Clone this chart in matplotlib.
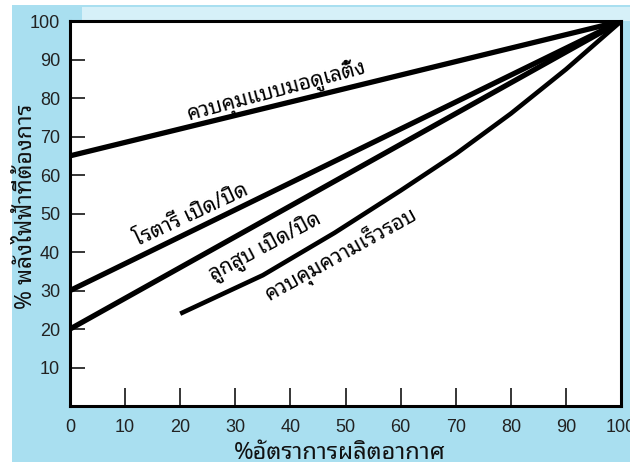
import matplotlib
matplotlib.use("Agg")
import matplotlib.pyplot as plt
from matplotlib.patches import Rectangle

thai = ['Noto Sans Thai Looped', 'DejaVu Sans']
nums = ['Liberation Sans Narrow', 'Liberation Sans', 'DejaVu Sans']

# curves: % air output -> % power needed
mod_x = [0, 100]
mod_y = [65, 100]
rot_x = [0, 100]
rot_y = [30, 100]
rec_x = [0, 100]
rec_y = [20, 100]
vsd_x = [20, 35, 48, 60, 70, 80, 90, 100]
vsd_y = [24, 34, 45, 56, 65.5, 76, 87.5, 100]

labels = ['ควบคุมแบบมอดูเลติ้ง', 'โรตารี เปิด/ปิด', 'ลูกสูบ เปิด/ปิด', 'ควบคุมความเร็วรอบ']
xticks = list(range(0, 101, 10))
yticks = list(range(10, 101, 10))

fig = plt.figure(figsize=(6.3, 4.7), dpi=100)
fig.patch.set_facecolor('white')
fig.patches.append(Rectangle((0.019, 0.017), 0.981, 0.972, transform=fig.transFigure,
                             facecolor='#a9dff0', edgecolor='none', zorder=-10))
fig.patches.append(Rectangle((0.13, 0.955), 0.87, 0.03, transform=fig.transFigure,
                             facecolor='#d6f0f8', edgecolor='none', zorder=-9))

ax = fig.add_axes([0.111, 0.136, 0.875, 0.819])
ax.set_facecolor('white')
ax.set_xlim(0, 100)
ax.set_ylim(0, 100)

ax.plot(mod_x, mod_y, color='black', lw=3.8, solid_capstyle='butt')
ax.plot(rot_x, rot_y, color='black', lw=3.8, solid_capstyle='butt')
ax.plot(rec_x, rec_y, color='black', lw=3.8, solid_capstyle='butt')
ax.plot(vsd_x, vsd_y, color='black', lw=3.3, solid_capstyle='butt', solid_joinstyle='round')

ax.text(37.6, 81.8, labels[0], rotation=15, rotation_mode='anchor', ha='center', va='center',
        fontsize=15, family=thai)
ax.text(22.0, 49.6, labels[1], rotation=25, rotation_mode='anchor', ha='center', va='center',
        fontsize=15, family=thai)
ax.text(35.4, 41.3, labels[2], rotation=28, rotation_mode='anchor', ha='center', va='center',
        fontsize=15, family=thai)
ax.text(49.2, 39.5, labels[3], rotation=29, rotation_mode='anchor', ha='center', va='center',
        fontsize=15, family=thai)

for s in ax.spines.values():
    s.set_linewidth(2.2)

ax.set_xticks(xticks)
ax.set_xticklabels([str(v) for v in xticks], family=nums, fontsize=13, color='#222222')
ax.set_yticks(yticks)
ax.set_yticklabels([str(v) for v in yticks], family=nums, fontsize=13, color='#222222')
ax.tick_params(axis='x', direction='in', length=13, width=1.1, pad=9)
ax.tick_params(axis='y', direction='in', length=11, width=1.1, pad=7)
# "0" sits a bit left of the corner in the original
for t in ax.get_xticklabels():
    if t.get_text() == '0':
        t.set_x(-2.5)

ax.set_xlabel('%อัตราการผลิตอากาศ', family=thai, fontsize=17, color='#111111')
ax.set_ylabel('% พลังไฟฟ้าที่ต้องการ', family=thai, fontsize=16.5, color='#111111')
ax.xaxis.set_label_coords(0.49, -0.092)
ax.yaxis.set_label_coords(-0.058, 0.52)

fig.savefig('out.png', dpi=100, facecolor=fig.get_facecolor())
